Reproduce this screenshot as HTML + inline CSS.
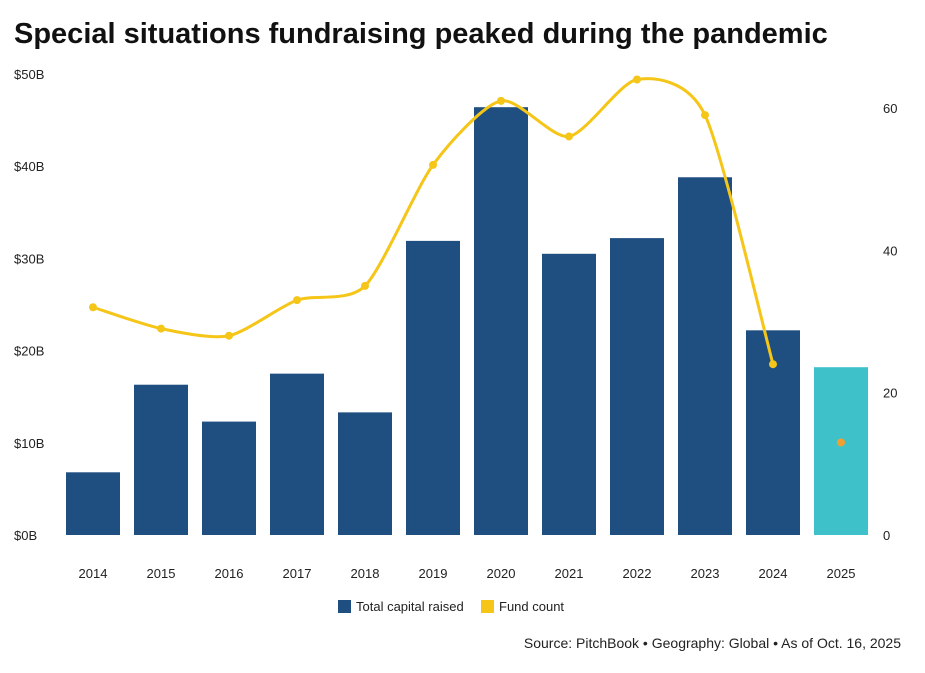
<!DOCTYPE html>
<html><head><meta charset="utf-8">
<style>
body{margin:0;background:#fff;font-family:"Liberation Sans",sans-serif;}
svg text{font-family:"Liberation Sans",sans-serif;}
</style></head>
<body>
<svg id="chart" width="925" height="668" viewBox="0 0 925 668">
<text x="14" y="43" font-size="29" font-weight="bold" fill="#111">Special situations fundraising peaked during the pandemic</text>
<g id="axes"></g>
<g id="bars"></g>
<g id="line"></g>
<g>
<rect x="338" y="600" width="13" height="13" fill="#1f4e80"/>
<text x="356" y="611" font-size="13" fill="#222">Total capital raised</text>
<rect x="481" y="600" width="13" height="13" fill="#f5c518"/>
<text x="499" y="611" font-size="13" fill="#222">Fund count</text>
</g>
<text x="901" y="648" font-size="14" fill="#222" text-anchor="end">Source: PitchBook • Geography: Global • As of Oct. 16, 2025</text>
</svg>
<script>
const years=["2014","2015","2016","2017","2018","2019","2020","2021","2022","2023","2024","2025"];
const capital=[6.8,16.3,12.3,17.5,13.3,31.9,46.4,30.5,32.2,38.8,22.2,18.2];
const fundCount=[32,29,28,33,35,52,61,56,64,59,24,13];
const leftTicks=[0,10,20,30,40,50];
const leftTickLabels=["$0B","$10B","$20B","$30B","$40B","$50B"];
const rightTicks=[0,20,40,60];
const NS="http://www.w3.org/2000/svg";
const y0=535, x0=93, step=68, bw=54;
const yL=v=>y0-v*9.22;
const yR=v=>y0-v*7.117;
const xC=i=>x0+i*step;
function mk(tag,attrs,parent,txt){const e=document.createElementNS(NS,tag);for(const k in attrs)e.setAttribute(k,attrs[k]);if(txt!==undefined)e.textContent=txt;parent.appendChild(e);return e;}
const axes=document.getElementById('axes'),bars=document.getElementById('bars'),line=document.getElementById('line');
leftTicks.forEach((t,i)=>{const e=mk('text',{x:14,y:yL(t)+5,'font-size':13,fill:'#222'},axes,leftTickLabels[i]);

});
rightTicks.forEach(t=>{const e=mk('text',{x:883,y:yR(t)+5,'font-size':13,fill:'#222'},axes,String(t));

});
years.forEach((y,i)=>{const e=mk('text',{x:xC(i),y:578,'font-size':13,fill:'#222','text-anchor':'middle'},axes,y);

});
capital.forEach((v,i)=>{const last=i===capital.length-1;
const r=mk('rect',{x:xC(i)-bw/2,y:yL(v),width:bw,height:y0-yL(v),fill:last?'#3fc1c9':'#1f4e80'},bars);

});
const n=fundCount.length-1;
const pts=fundCount.slice(0,n).map((v,i)=>[xC(i),yR(v)]);
let d='M'+pts[0][0]+','+pts[0][1];
const k=8;
for(let i=0;i<pts.length-1;i++){const p0=pts[i-1]||pts[i],p1=pts[i],p2=pts[i+1],p3=pts[i+2]||p2;
const c1=[p1[0]+(p2[0]-p0[0])/k,p1[1]+(p2[1]-p0[1])/k],c2=[p2[0]-(p3[0]-p1[0])/k,p2[1]-(p3[1]-p1[1])/k];
d+=` C${c1[0]},${c1[1]} ${c2[0]},${c2[1]} ${p2[0]},${p2[1]}`;}
const pth=mk('path',{d:d,fill:'none',stroke:'#f5c518','stroke-width':3},line);


fundCount.forEach((v,i)=>{const c=mk('circle',{cx:xC(i),cy:yR(v),r:4,fill:i===n?'#f0a030':'#f5c518'},line);

});
</script>
</body></html>
